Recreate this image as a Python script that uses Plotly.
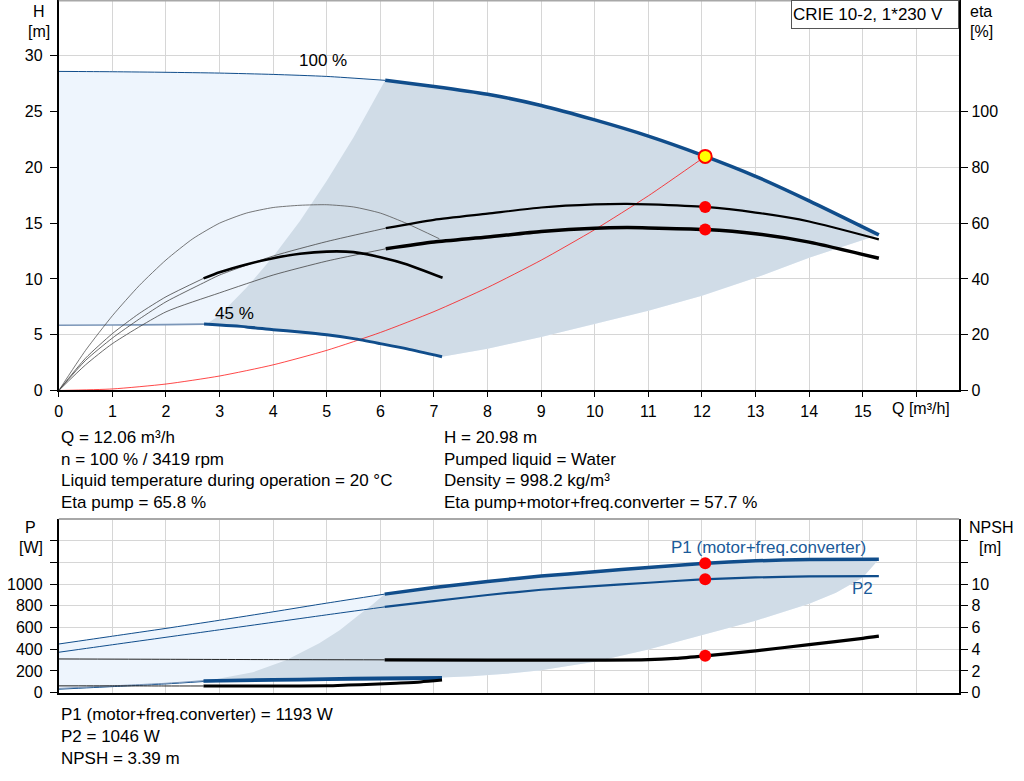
import plotly.graph_objects as go

W, H = 1024, 781          # reference picture size (all pixel positions below refer to it)
FIG_H = 791               # figure height (the capture is squeezed to 781 px)
FONT = "Liberation Sans, Arial, sans-serif"
BLUE = "#104d8b"
LIGHT = "#eef5fd"
DARK = "#d0dce7"

# ---------------- top chart data (Q in m3/h, H in m, eta in %) ----------------
q100_thin = [0, 1, 2, 3, 4, 5, 6.09]
h100_thin = [28.6, 28.57, 28.52, 28.45, 28.33, 28.15, 27.8]
q100_op = [6.09, 7, 8, 9, 10, 11, 12, 13, 14, 15.3]
h100_op = [27.8, 27.25, 26.55, 25.55, 24.25, 22.8, 21.1, 19.2, 17.0, 13.95]

q45_thin = [0, 1, 2, 2.71]
h45_thin = [5.85, 5.87, 5.9, 5.95]
q45_op = [2.71, 3.5, 4, 4.5, 5, 5.5, 6, 6.5, 7.15]
h45_op = [5.95, 5.7, 5.45, 5.25, 5.0, 4.65, 4.2, 3.73, 3.02]

qmin = [2.75, 3.0, 3.5, 4.0, 4.5, 5.0, 5.5, 6.09]
hmin = [5.93, 6.75, 9.2, 12.0, 15.2, 18.8, 22.7, 27.8]
qmax = [7.15, 8, 9, 10, 11, 12, 13, 14, 15.3]
hmax = [3.02, 3.75, 4.8, 5.95, 7.15, 8.5, 10.1, 11.9, 13.95]

qsys = [0, 1, 2, 3, 4, 5, 6, 7, 8, 9, 10, 11, 12.06]
hsys = [0, 0.14, 0.58, 1.3, 2.3, 3.6, 5.2, 7.07, 9.23, 11.68, 14.42, 17.45, 20.98]

# eta pump, 100 %
qe_p_thin = [0, 0.5, 1, 1.5, 2, 2.7, 3, 4, 5, 6.1]
e_p_thin = [0, 10.8, 18.8, 25.6, 31.8, 38.6, 41.4, 48.2, 53.4, 58.2]
qe_p_op = [6.1, 7, 8, 9, 10, 10.6, 11, 12.06, 13, 14, 15.3]
e_p_op = [58.2, 61.2, 63.4, 65.6, 66.7, 66.9, 66.7, 65.8, 63.8, 60.6, 54.2]
# eta pump+motor+converter, 100 %
qe_t_thin = [0, 0.5, 1, 2, 3, 4, 5, 6.1]
e_t_thin = [0, 9.2, 16.8, 28.2, 35.0, 41.4, 46.4, 50.8]
qe_t_op = [6.1, 7, 8, 9, 10, 10.6, 11, 12.06, 13, 14, 15.3]
e_t_op = [50.8, 53.2, 55.0, 57.0, 58.2, 58.4, 58.3, 57.7, 56.2, 53.2, 47.4]
# eta pump, 45 %
qe_p45 = [0, 0.5, 1, 1.5, 2, 2.5, 3, 3.5, 4, 4.5, 5, 5.5, 6, 6.5, 7.1]
e_p45 = [0, 14.4, 26.8, 37.6, 46.8, 54.4, 60.0, 63.6, 65.6, 66.4, 66.6, 65.8, 63.6, 59.8, 54.4]
# eta total, 45 %
qe_t45_thin = [0, 0.5, 1, 1.5, 2, 2.7]
e_t45_thin = [0, 11.6, 20.4, 27.6, 33.6, 40.2]
qe_t45_op = [2.7, 3.0, 3.5, 4.0, 4.5, 5.0, 5.5, 6.0, 6.5, 7.16]
e_t45_op = [40.2, 42.4, 45.2, 47.4, 49.0, 49.8, 49.6, 47.8, 45.2, 40.4]

# duty point
q_duty = 12.06
h_duty = 20.98
eta_pump_duty = 65.8
eta_tot_duty = 57.7

# ---------------- bottom chart data (P in W, NPSH in m) ----------------
qp_thin = [0, 1, 2, 3, 4, 5, 6.08]
p1_thin = [448, 520, 592, 667, 745, 825, 908]
qp_op = [6.08, 7, 8, 9, 10, 11, 12, 13, 14, 15.3]
p1_op = [908, 968, 1025, 1074, 1114, 1154, 1190, 1215, 1227, 1230]
p2_thin = [372, 441, 510, 579, 648, 717, 790]
p2_op = [790, 843, 900, 948, 982, 1013, 1044, 1062, 1071, 1074]

qn_thin = [0, 2, 4, 6.08]
npsh_thin = [3.1, 3.07, 3.04, 3.02]
qn_op = [6.08, 8, 10, 11, 11.5, 12.06, 13, 14, 15, 15.3]
npsh_op = [3.02, 3.0, 2.99, 3.03, 3.15, 3.39, 3.85, 4.42, 5.0, 5.2]

qp45_thin = [0, 1, 2, 2.7]
p1_45_thin = [38, 62, 86, 110]
p2_45_thin = [31, 55, 80, 102]
qp45_op = [2.7, 4, 5, 6, 7.15]
p1_45_op = [110, 120, 128, 134, 138]
p2_45_op = [102, 111, 118, 123, 128]
qn45_thin = [0, 1, 2, 2.7]
npsh45_thin = [0.62, 0.62, 0.61, 0.61]
qn45_op = [2.7, 4, 5, 5.4, 5.85, 6.3, 6.75, 7.15]
npsh45_op = [0.61, 0.6, 0.62, 0.69, 0.77, 0.87, 0.98, 1.15]

qpmin = [2.7, 3.0, 3.62, 4.24, 4.86, 5.24, 5.61, 5.86, 6.08]
ppmin = [110, 130, 187, 298, 455, 575, 720, 815, 908]
qpmax = [7.15, 7.7, 8.5, 9, 10, 11, 12, 13, 14, 14.5, 15, 15.3]
ppmax = [138, 150, 180, 205, 285, 398, 528, 662, 820, 920, 1060, 1230]

p1_duty = 1193
p2_duty = 1046
npsh_duty = 3.39

# ---------------- figure ----------------
fig = go.Figure()


def line(x, y, color, width, xa="x", ya="y"):
    fig.add_trace(go.Scatter(x=x, y=y, mode="lines", xaxis=xa, yaxis=ya,
                             line=dict(color=color, width=width, shape="spline", smoothing=0.6),
                             hoverinfo="skip", showlegend=False))


def poly(x, y, color, xa="x", ya="y"):
    fig.add_trace(go.Scatter(x=x, y=y, mode="lines", xaxis=xa, yaxis=ya, fill="toself",
                             fillcolor=color, line=dict(width=0, color=color),
                             hoverinfo="skip", showlegend=False))


def rev(a):
    return list(reversed(a))


# top fills
poly(q100_thin + q100_op[1:] + rev(qmax) + rev(q45_op)[1:] + rev(q45_thin)[1:],
     h100_thin + h100_op[1:] + rev(hmax) + rev(h45_op)[1:] + rev(h45_thin)[1:], LIGHT)
poly(qmin + q100_op[1:] + rev(qmax) + rev(q45_op),
     hmin + h100_op[1:] + rev(hmax) + rev(h45_op), DARK)

# system curve
line(qsys, hsys, "rgba(255,0,0,0.8)", 0.9)

# head curves
line(q100_thin, h100_thin, BLUE, 1)
line(q100_op, h100_op, BLUE, 3.5)
line(q45_thin, h45_thin, "#7b96b8", 1.6)
line(q45_op, h45_op, BLUE, 3)

# efficiency curves (right axis)
line(qe_p45, e_p45, "#555555", 0.8, ya="y2")
line(qe_p_thin, e_p_thin, "#444444", 0.8, ya="y2")
line(qe_t_thin, e_t_thin, "#444444", 0.8, ya="y2")
line(qe_t45_thin, e_t45_thin, "#444444", 0.8, ya="y2")
line(qe_p_op, e_p_op, "black", 2.2, ya="y2")
line(qe_t_op, e_t_op, "black", 3.5, ya="y2")
line(qe_t45_op, e_t45_op, "black", 2.6, ya="y2")

# duty point markers
fig.add_trace(go.Scatter(x=[q_duty, q_duty], y=[eta_pump_duty, eta_tot_duty], mode="markers",
                         xaxis="x", yaxis="y2", marker=dict(color="#ff0000", size=12),
                         hoverinfo="skip", showlegend=False))
fig.add_trace(go.Scatter(x=[q_duty], y=[h_duty], mode="markers", xaxis="x", yaxis="y",
                         marker=dict(color="#ffff00", size=13, line=dict(color="#ff0000", width=2)),
                         hoverinfo="skip", showlegend=False))

# bottom fills
poly(qp_thin + qp_op[1:] + rev(qpmax) + rev(qp45_op)[1:] + rev(qp45_thin)[1:],
     p1_thin + p1_op[1:] + rev(ppmax) + rev(p2_45_op)[1:] + rev(p2_45_thin)[1:], LIGHT, "x2", "y3")
poly(qpmin + qp_op[1:] + rev(qpmax) + rev(qp45_op),
     ppmin + p1_op[1:] + rev(ppmax) + rev(p1_45_op), DARK, "x2", "y3")

# power curves
line(qp_thin, p1_thin, BLUE, 1, "x2", "y3")
line(qp_thin, p2_thin, BLUE, 1, "x2", "y3")
line(qp_op, p1_op, BLUE, 3.5, "x2", "y3")
line(qp_op, p2_op, BLUE, 2.2, "x2", "y3")
line(qp45_thin, p2_45_thin, BLUE, 1, "x2", "y3")
line(qp45_thin, p1_45_thin, "#7b96b8", 1, "x2", "y3")
line(qp45_op, p2_45_op, BLUE, 2.5, "x2", "y3")
line(qp45_op, p1_45_op, BLUE, 3, "x2", "y3")

# NPSH curves (right axis)
line(qn_thin, npsh_thin, "#222222", 1, "x2", "y4")
line(qn_op, npsh_op, "black", 3.2, "x2", "y4")
line(qn45_thin, npsh45_thin, "#222222", 1, "x2", "y4")
line(qn45_op, npsh45_op, "black", 3, "x2", "y4")

fig.add_trace(go.Scatter(x=[q_duty, q_duty], y=[p1_duty, p2_duty], mode="markers", xaxis="x2", yaxis="y3",
                         marker=dict(color="#ff0000", size=12), hoverinfo="skip", showlegend=False))
fig.add_trace(go.Scatter(x=[q_duty], y=[npsh_duty], mode="markers", xaxis="x2", yaxis="y4",
                         marker=dict(color="#ff0000", size=12), hoverinfo="skip", showlegend=False))

# ---------------- axes ----------------
XL, XR = 55 / W, 959 / W
top_dom = [1 - 390 / H, 1.0]
bot_dom = [1 - 691.7 / H, 1 - 518.4 / H]
tickfont = dict(family=FONT, size=16, color="black")
grid = "#d6d6d6"

qt = list(range(0, 17))
qlabels = [str(v) for v in range(0, 16)] + [""]

axis_common = dict(showline=True, linecolor="black", linewidth=2, zeroline=False,
                   tickfont=tickfont, ticks="outside", tickcolor="black")

fig.update_layout(
    width=W, height=FIG_H, margin=dict(l=0, r=0, t=0, b=0), autosize=False,
    paper_bgcolor="white", plot_bgcolor="white",
    xaxis=dict(domain=[XL, XR], range=[0, 16.8], anchor="y", tickvals=qt, ticktext=qlabels,
               ticklen=5, showgrid=True, gridcolor=grid, gridwidth=1, **axis_common),
    yaxis=dict(domain=top_dom, range=[0, 35], anchor="x", tickvals=[0, 5, 10, 15, 20, 25, 30],
               ticklen=7, ticklabelstandoff=4, showgrid=True, gridcolor=grid, gridwidth=1, **axis_common),
    yaxis2=dict(range=[0, 140], overlaying="y", side="right", anchor="x",
                tickvals=[0, 20, 40, 60, 80, 100], ticklen=7, showgrid=False, **axis_common),
    xaxis2=dict(domain=[XL, XR], range=[0, 16.8], anchor="y3", tickvals=qt, showticklabels=False,
                showline=True, linecolor="black", linewidth=2, zeroline=False, ticks="",
                showgrid=True, gridcolor=grid, gridwidth=1),
    yaxis3=dict(domain=bot_dom, range=[0, 1600], anchor="x2",
                tickvals=[0, 200, 400, 600, 800, 1000, 1200, 1400],
                ticktext=["0", "200", "400", "600", "800", "1000", "", ""],
                ticklen=7, ticklabelstandoff=4, showgrid=True, gridcolor=grid, gridwidth=1, **axis_common),
    yaxis4=dict(range=[0, 16], overlaying="y3", side="right", anchor="x2",
                tickvals=[0, 2, 4, 6, 8, 10, 12, 14],
                ticktext=["0", "2", "4", "6", "8", "10", "", ""],
                ticklen=7, showgrid=False, **axis_common),
)

# frame top borders
fig.add_shape(type="line", xref="paper", yref="paper", x0=XL, x1=XR, y0=top_dom[1] - 0.0008,
              y1=top_dom[1] - 0.0008, line=dict(color="#a8a8a8", width=1.5))
fig.add_shape(type="line", xref="paper", yref="paper", x0=XL, x1=XR, y0=bot_dom[1], y1=bot_dom[1],
              line=dict(color="#a8a8a8", width=2))


def txt(s, px, py, xanchor="center", color="black", size=17):
    fig.add_annotation(text=s, x=px / W, y=1 - py / H, xref="paper", yref="paper",
                       xanchor=xanchor, yanchor="middle", showarrow=False,
                       font=dict(family=FONT, size=size, color=color))


# axis titles
txt("H", 35, 11, size=16)
txt("[m]", 35, 31, size=16)
txt("eta", 981, 11, size=16)
txt("[%]", 981, 31, size=16)
txt("Q [m³/h]", 921, 408, size=16)
txt("P", 27, 527, size=16)
txt("[W]", 27, 547, size=16)
txt("NPSH", 991, 527, size=16)
txt("[m]", 990, 547, size=16)

# curve labels
txt("100 %", 320, 60)
txt("45 %", 231, 313)
txt("P1 (motor+freq.converter)", 767, 547, color="#1a5a99")
txt("P2", 862, 588, color="#1a5a99")

# product box
fig.add_annotation(text="CRIE 10-2, 1*230 V", x=959 / W, y=1.0, xref="paper", yref="paper",
                   xanchor="right", yanchor="top", showarrow=False, align="left",
                   font=dict(family=FONT, size=17, color="black"),
                   bgcolor="white", bordercolor="#555555", borderwidth=1, width=164, height=25,
                   borderpad=1)

# info texts
info_left = ["Q = 12.06 m³/h", "n = 100 % / 3419 rpm",
             "Liquid temperature during operation = 20 °C", "Eta pump = 65.8 %"]
info_right = ["H = 20.98 m", "Pumped liquid = Water", "Density = 998.2 kg/m³",
              "Eta pump+motor+freq.converter = 57.7 %"]
info_bottom = ["P1 (motor+freq.converter) = 1193 W", "P2 = 1046 W", "NPSH = 3.39 m"]
for i, s in enumerate(info_left):
    txt(s, 55, 437 + 21.5 * i, xanchor="left")
for i, s in enumerate(info_right):
    txt(s, 440, 437 + 21.5 * i, xanchor="left")
for i, s in enumerate(info_bottom):
    txt(s, 55, 714 + 22 * i, xanchor="left")

css = ("var s=document.createElement('style');"
       "s.textContent='html,body{margin:0;padding:0;overflow:hidden;}"
       ".plotly-graph-div{display:block;}';"
       "document.head.appendChild(s);")
fig.write_html("out.html", config={"displayModeBar": False}, post_script=css)
